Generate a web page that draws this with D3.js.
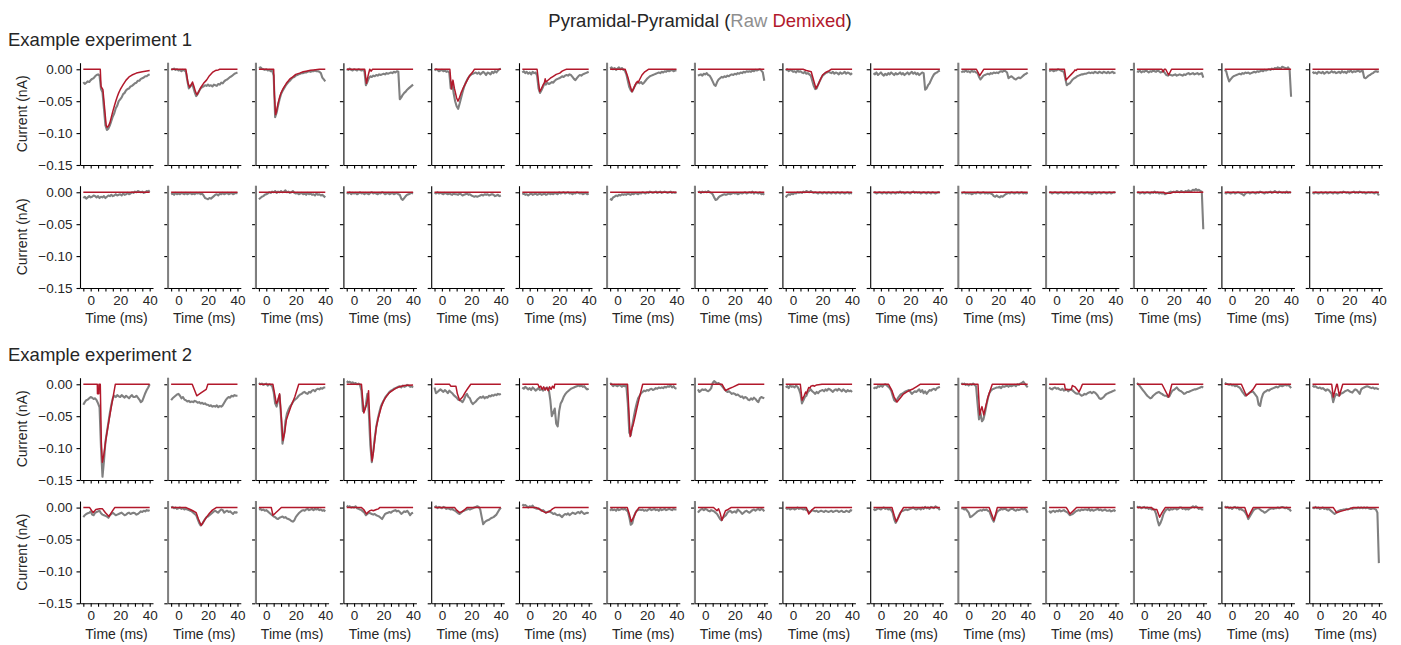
<!DOCTYPE html>
<html>
<head>
<meta charset="utf-8">
<script src="https://cdn.jsdelivr.net/npm/d3@7"></script>
<style>
    body { margin: 0; background: #fff; }
    text { font-family: "Liberation Sans", Arial, Helvetica, sans-serif; fill: #262626; }
</style>
</head>
<body>
<div id="chart"></div>
<script>
// sample times of the raw traces (ms)
const timeMs = [-5,-4,-3,-2,-1,0,1,2,3,4,5,6,7,8,9,10,11,12,13,14,15,16,17,18,19,20,21,22,23,24,25,26,27,28,29,30,31,32,33,34,35,36,37,38,39,40];
const xTicks = [-5, 0, 5, 10, 15, 20, 25, 30, 35, 40];
const xTickLabels = [0, 20, 40];
const yTicks = [0, -0.05, -0.10, -0.15];
const experimentTitles = ["Example experiment 1", "Example experiment 2"];

// columns whose raw trace carries a clipped stimulus artifact at the left edge
const artifactExp1 = [1, 2, 6, 7, 10, 11, 12];
const artifactExp2 = [1, 2, 6, 7, 10, 11, 12];

// raw traces, pA, one value per timeMs entry
const rawExp1Top = [
    [-20,-23,-21,-19,-20,-17,-15,-14,-11,-9,-8,-10,-31,-36,-62,-88,-95,-93,-88,-81,-74,-69,-61,-57,-50,-47,-44,-39,-37,-33,-31,-30,-27,-26,-24,-22,-21,-18,-18,-15,-14,-13,-11,-11,-9,-8],
    [-1,0,1,-1,0,-2,-1,-3,-1,-2,-4,-18,-30,-27,-23,-28,-36,-42,-39,-34,-30,-28,-27,-25,-26,-24,-26,-25,-27,-24,-25,-26,-23,-24,-21,-22,-19,-17,-16,-14,-12,-11,-9,-7,-6,-5],
    [2,3,1,0,-1,0,-2,-1,-3,-2,-10,-75,-68,-57,-47,-39,-34,-30,-26,-23,-20,-18,-15,-13,-12,-10,-9,-8,-7,-6,-6,-5,-5,-4,-3,-4,-3,-3,-2,-3,-3,-4,-6,-13,-16,-19],
    [0,-1,1,-1,-2,0,-1,-2,0,-1,-2,-1,-3,-25,-20,-14,-11,-12,-10,-11,-9,-10,-8,-9,-8,-7,-8,-6,-7,-6,-5,-6,-4,-5,-3,-4,-47,-44,-40,-37,-35,-32,-30,-28,-26,-24],
    [-2,0,-1,-3,-2,-1,-3,-2,-4,-3,-5,-30,-20,-38,-50,-58,-62,-54,-45,-36,-28,-22,-17,-13,-10,-8,-7,-6,-5,-7,-5,-8,-6,-4,-6,-9,-5,-6,-8,-4,-6,-3,-5,-2,0,1],
    [-5,-3,-6,-4,-7,-5,-8,-4,-6,-5,-10,-30,-37,-33,-28,-22,-24,-21,-23,-22,-20,-21,-18,-16,-15,-14,-13,-11,-12,-10,-9,-10,-8,-9,-12,-15,-17,-14,-11,-9,-10,-8,-7,-6,-5,-4],
    [1,3,0,2,-1,1,3,0,2,-1,-2,-8,-18,-28,-33,-35,-30,-25,-22,-20,-22,-20,-23,-21,-18,-15,-13,-11,-10,-9,-8,-7,-6,-5,-6,-4,-5,-3,-4,-2,-3,-2,-1,-3,-2,-2],
    [-10,-9,-8,-10,-7,-8,-6,-9,-10,-14,-19,-24,-26,-20,-16,-14,-12,-13,-11,-12,-10,-11,-9,-8,-9,-7,-8,-6,-7,-5,-6,-4,-5,-3,-4,-3,-4,-2,-3,-1,-2,-1,0,-2,-5,-18],
    [-2,0,-3,-1,-2,-4,-3,-5,-2,-4,-3,-5,-6,-4,-7,-6,-8,-10,-18,-26,-31,-30,-24,-19,-14,-10,-8,-6,-5,-4,-5,-6,-4,-7,-5,-6,-8,-5,-7,-6,-4,-7,-5,-6,-8,-6],
    [-6,-8,-5,-9,-7,-5,-8,-10,-7,-9,-6,-8,-5,-7,-9,-6,-8,-7,-5,-8,-6,-9,-7,-5,-8,-6,-4,-7,-5,-8,-6,-9,-7,-5,-6,-32,-30,-25,-22,-17,-12,-8,-6,-5,-3,-2],
    [-5,-3,-4,-2,-4,-3,-5,-2,-4,-3,-5,-6,-12,-16,-13,-10,-9,-8,-7,-8,-6,-7,-5,-6,-5,-6,-4,-3,-4,-2,-3,-5,-14,-12,-11,-13,-15,-16,-14,-13,-14,-12,-10,-8,-7,-5],
    [-3,-2,-1,-3,-2,-2,0,-1,-2,-3,-4,-15,-25,-23,-22,-19,-16,-14,-13,-11,-10,-9,-8,-8,-7,-7,-6,-5,-6,-5,-6,-4,-5,-6,-4,-5,-6,-4,-5,-6,-4,-6,-5,-4,-6,-5],
    [-3,-4,-2,-5,-3,-4,-2,-3,-5,-3,-4,-2,-3,-4,-2,-3,-5,-4,-3,-6,-9,-10,-8,-9,-10,-9,-8,-10,-9,-8,-9,-10,-8,-9,-7,-6,-8,-7,-6,-8,-7,-6,-8,-7,-6,-13],
    [-1,-3,-12,-19,-16,-13,-11,-10,-9,-8,-7,-8,-6,-7,-5,-6,-5,-7,-6,-5,-4,-5,-3,-4,-3,-2,-3,-1,-2,-1,0,-1,1,0,2,1,3,2,1,4,3,2,1,3,-1,-43],
    [-4,-6,-5,-7,-4,-5,-6,-4,-7,-5,-4,-6,-5,-3,-5,-4,-6,-5,-4,-6,-3,-5,-4,-6,-3,-4,-2,-5,-3,-4,-3,-2,-4,-3,-2,-13,-14,-12,-10,-9,-7,-6,-4,-3,-4,-3]
];
const rawExp1Bottom = [
    [-9,-7,-10,-8,-6,-8,-7,-5,-6,-8,-6,-9,-7,-8,-6,-9,-7,-5,-6,-4,-6,-5,-3,-5,-4,-3,-5,-2,-4,-3,-1,-3,-2,0,-1,1,0,2,1,0,1,-1,0,2,1,3],
    [-3,-2,-4,-1,-3,-2,-3,-1,-2,-3,-1,-3,-2,-1,-3,-2,-3,-1,-2,-1,-3,-2,-5,-9,-10,-11,-9,-10,-8,-6,-4,-3,-5,-2,-3,-1,-3,-2,-1,-3,-2,-1,-3,-2,-1,-2],
    [-11,-9,-7,-6,-4,-3,-2,0,-1,1,0,2,-1,1,0,2,0,1,3,0,1,-1,0,2,-1,-2,-1,-3,-2,-1,-3,-2,-4,-1,-3,-2,-4,-3,-5,-2,-4,-3,-5,-4,-6,-8],
    [-1,-2,0,-3,-1,-2,-1,-3,-2,0,-2,-1,-3,-1,-2,-3,-1,0,-2,-1,-2,-3,-1,-2,0,-1,-3,-2,-1,-3,-2,-1,-3,-2,-1,-3,-4,-10,-12,-9,-6,-4,-3,-2,-1,-2],
    [-1,-2,0,-2,-1,-2,-3,-1,-2,-3,-2,-3,-4,-2,-3,-3,-4,-2,-3,-5,-4,-3,-2,-4,-3,-5,-6,-7,-6,-7,-6,-5,-4,-5,-3,-4,-3,-5,-4,-3,-4,-6,-5,-4,-6,-5],
    [-3,-2,-4,-3,-5,-3,-2,-4,-3,-2,-4,-3,-2,-4,-3,-2,-4,-3,-1,-3,-2,-3,-1,-2,-3,0,-2,-1,0,-2,-1,0,-2,-1,-3,-1,-2,0,-1,-2,-1,-3,-2,-1,-3,-2],
    [-10,-12,-8,-7,-5,-6,-4,-5,-3,-4,-3,-4,-2,-3,-4,-2,-3,-1,-2,-3,-1,-2,0,-1,-2,0,-1,1,0,-1,0,1,-1,0,1,-1,0,1,0,-1,0,1,-1,0,-1,0],
    [0,1,-1,1,0,1,0,2,0,-1,-3,-8,-12,-11,-8,-6,-5,-4,-3,-4,-3,-2,-3,-2,-1,-2,-1,-3,-2,-1,-2,-1,0,-2,-1,0,-1,1,-2,0,-1,-2,0,-3,-2,-4],
    [-8,-5,-3,-4,-2,-3,-1,-2,0,-1,0,-1,1,0,2,1,0,2,0,-1,0,-1,-2,0,-1,-2,0,-1,-2,0,-1,-2,0,-1,-2,0,-1,-2,0,-1,-2,-1,0,-2,-1,-2],
    [-1,0,-2,-1,0,-1,-2,0,-1,-2,0,-1,-2,0,-1,-2,0,-1,1,-1,0,-2,-1,0,-1,-2,0,1,-1,0,-1,0,-2,-1,0,-1,-2,0,-1,-2,0,-1,-2,-1,0,-1],
    [-2,-1,0,-2,-1,-2,-1,-3,-2,-1,-2,0,-1,-2,-1,0,-2,-1,-2,-1,-2,-3,-6,-7,-5,-7,-8,-6,-7,-5,-3,-2,-1,-2,0,-1,-2,-1,0,-2,-1,0,-2,-1,-2,-1],
    [-1,0,-2,-1,0,-1,-2,-1,0,-1,-2,-1,0,-2,-1,0,-1,-2,-1,0,-2,-1,0,-1,-2,-1,0,-2,-1,-3,-1,0,-2,-1,0,-2,-1,0,-1,-2,-1,0,-2,-1,0,-1],
    [-1,0,-2,-1,0,-2,-1,0,-1,-2,0,-1,1,-1,0,-2,-1,-2,-1,-3,-2,-1,0,1,0,1,0,2,1,0,2,1,0,2,1,3,1,2,4,3,5,3,4,2,1,-58],
    [-1,-2,0,-1,-2,-1,0,-2,-1,0,-1,-2,-3,-5,-2,-1,0,-2,-1,0,-1,-2,0,-1,1,0,-1,-2,0,-1,0,1,-1,0,2,0,-1,1,0,-1,0,-1,1,-1,0,-1],
    [-1,-2,0,-1,-2,-1,0,-2,-1,0,-2,-1,0,-1,-2,0,-1,-2,-1,0,-1,1,0,-1,0,-2,-1,0,1,-1,0,-1,1,0,-1,0,-2,-1,0,-1,0,-1,-2,0,-1,-5]
];
const rawExp2Top = [
    [-32,-28,-25,-24,-22,-20,-21,-23,-22,-25,-30,-36,-100,-145,-120,-90,-75,-60,-45,-32,-22,-18,-20,-17,-19,-20,-17,-19,-21,-18,-20,-22,-19,-17,-20,-20,-18,-21,-24,-28,-26,-20,-14,-9,-5,0],
    [-25,-22,-20,-18,-16,-15,-18,-22,-20,-24,-25,-27,-26,-28,-27,-28,-26,-27,-29,-28,-30,-29,-31,-30,-32,-32,-34,-33,-35,-34,-35,-33,-36,-34,-35,-33,-29,-25,-22,-20,-21,-18,-19,-17,-18,-18],
    [2,0,1,-1,0,1,-2,0,-1,-3,-12,-30,-35,-25,-17,-50,-93,-80,-58,-46,-40,-35,-32,-28,-25,-23,-21,-18,-16,-15,-13,-12,-14,-15,-12,-13,-10,-9,-11,-8,-7,-8,-6,-7,-5,-5],
    [5,3,4,2,3,1,2,0,1,-1,-10,-42,-40,-32,-15,-45,-95,-122,-105,-84,-67,-55,-45,-36,-30,-26,-21,-18,-15,-12,-10,-9,-7,-6,-5,-4,-3,-5,-2,-4,-3,-1,-2,-4,-3,-5],
    [-5,-14,-12,-10,-8,-10,-12,-9,-11,-14,-10,-12,-14,-17,-19,-21,-24,-25,-26,-28,-24,-18,-15,-20,-22,-28,-31,-29,-27,-24,-22,-20,-21,-19,-22,-20,-21,-18,-19,-17,-18,-16,-17,-15,-16,-15],
    [-5,-7,-4,-6,-8,-6,-9,-5,-7,-10,-8,-6,-9,-7,-10,-8,-6,-5,-9,-25,-50,-44,-38,-62,-66,-42,-30,-26,-20,-16,-13,-11,-9,-7,-6,-5,-4,-3,-2,-3,-2,-4,-3,-6,-8,-7],
    [2,0,-3,-1,-2,-3,-1,-2,-4,-2,-3,-2,-30,-76,-80,-65,-52,-40,-30,-22,-18,-14,-12,-10,-11,-9,-10,-8,-7,-9,-8,-6,-7,-5,-6,-5,-6,-4,-5,-3,-4,-2,-5,-3,-6,-7],
    [-8,-12,-10,-8,-9,-8,-10,-11,-9,-6,2,5,3,1,2,0,-2,-5,-8,-10,-12,-11,-13,-15,-14,-15,-17,-16,-18,-20,-19,-22,-20,-21,-24,-25,-22,-24,-21,-23,-26,-28,-22,-20,-21,-22],
    [-5,-3,-6,-2,-4,-3,-5,-2,-4,-8,-15,-30,-25,-20,-18,-12,-10,-8,-11,-13,-15,-12,-14,-11,-10,-9,-11,-8,-10,-7,-8,-10,-12,-9,-8,-10,-7,-9,-11,-8,-10,-12,-9,-11,-10,-12],
    [-7,-5,-6,-3,-4,-2,-4,-1,0,-2,-4,-6,-10,-18,-25,-27,-24,-20,-17,-15,-14,-12,-11,-10,-9,-12,-15,-13,-11,-12,-10,-8,-12,-9,-14,-11,-15,-12,-9,-10,-8,-7,-9,-6,-5,-4],
    [2,0,1,-1,0,-2,0,-1,1,-1,-3,-30,-55,-45,-58,-55,-45,-33,-22,-14,-10,-8,-7,-6,-5,-5,-4,-6,-3,-4,-3,-2,-4,-2,-3,-2,-1,-3,0,-1,1,2,4,1,-2,-5],
    [-5,-7,-8,-6,-5,-7,-6,-8,-9,-7,-10,-9,-8,-11,-9,-8,-10,-12,-14,-15,-14,-16,-18,-17,-15,-16,-14,-13,-12,-14,-12,-13,-15,-18,-22,-23,-22,-20,-17,-15,-14,-13,-12,-11,-10,-9],
    [2,0,-3,-6,-9,-12,-15,-18,-20,-22,-21,-18,-16,-14,-13,-12,-14,-15,-17,-18,-18,-20,-19,-14,-10,-9,-7,-5,-8,-10,-11,-13,-15,-14,-12,-12,-11,-10,-9,-8,-8,-7,-6,-5,-4,-5],
    [2,1,0,-1,0,-2,-1,-3,-2,-4,-5,-8,-12,-15,-18,-16,-15,-13,-12,-11,-14,-17,-20,-32,-34,-22,-15,-12,-11,-9,-10,-8,-7,-6,-5,-4,-5,-3,-2,-3,-2,-1,-2,-1,-3,-6],
    [-2,-4,-3,-5,-6,-5,-7,-6,-8,-10,-8,-9,-12,-15,-28,-20,-15,-17,-18,-15,-14,-13,-11,-10,-9,-11,-12,-13,-10,-8,-9,-12,-15,-8,-6,-5,-4,-3,-4,-5,-6,-5,-7,-6,-7,-8]
];
const rawExp2Bottom = [
    [-15,-12,-10,-9,-8,-6,-11,-12,-8,-7,-6,-5,-9,-11,-12,-13,-14,-16,-12,-10,-8,-10,-12,-11,-10,-9,-8,-10,-12,-11,-9,-8,-10,-9,-8,-9,-11,-10,-8,-6,-7,-5,-6,-4,-5,-4],
    [0,1,-1,0,-2,-1,0,-2,-1,-3,-2,-3,-4,-5,-6,-8,-10,-12,-18,-24,-28,-26,-22,-18,-15,-14,-12,-10,-8,-6,-5,-7,-8,-5,-3,-4,-8,-6,-5,-7,-6,-8,-10,-7,-8,-7],
    [-3,-2,-4,-3,-5,-4,-6,-8,-10,-12,-14,-15,-17,-18,-16,-15,-14,-16,-15,-17,-18,-19,-21,-22,-20,-15,-12,-9,-7,-5,-4,-5,-3,-2,-4,-3,-2,-4,-2,-3,-2,-4,-3,-5,-4,-6],
    [3,1,2,0,1,0,2,-1,-2,-3,-4,-6,-8,-12,-10,-8,-9,-10,-11,-10,-12,-13,-14,-16,-18,-14,-10,-9,-8,-7,-8,-6,-5,-4,-6,-5,-7,-10,-8,-6,-7,-5,-8,-12,-9,-8],
    [0,2,-1,1,0,-1,1,0,-2,-1,-2,-3,-2,-4,-5,-7,-9,-10,-8,-6,-5,-4,-3,-2,-3,-2,-1,0,1,2,1,-3,-15,-26,-23,-21,-20,-19,-17,-16,-15,-13,-11,-7,-3,0],
    [5,3,4,2,0,2,1,3,0,-1,-2,-1,-3,-5,-4,-6,-8,-7,-6,-7,-8,-10,-9,-11,-12,-11,-13,-15,-12,-10,-11,-9,-12,-10,-8,-9,-10,-8,-7,-9,-6,-8,-10,-9,-8,-9],
    [-5,-2,-4,-3,-5,-2,-4,-3,-2,-3,-2,-4,-6,-15,-27,-25,-15,-9,-5,-4,-3,-4,-3,-5,-4,-5,-3,-2,-4,-3,-2,-4,-3,-5,-2,-4,-3,-2,-4,-3,-2,-3,-4,-2,-3,-3],
    [-8,-5,-3,-2,-4,-2,-3,-5,-6,-4,-5,-6,-8,-10,-14,-18,-20,-16,-14,-12,-8,-6,-5,-8,-7,-6,-8,-3,-5,-7,-10,-8,-6,-5,-7,-8,-6,-4,-3,-5,-3,-2,-4,-2,-3,-6],
    [0,-2,-1,-3,-2,-1,-3,-2,0,-2,-1,-2,-3,-2,-4,-5,-8,-6,-4,-5,-6,-5,-7,-6,-5,-6,-7,-5,-6,-7,-6,-5,-7,-6,-5,-5,-7,-6,-5,-7,-7,-5,-6,-7,-4,-5],
    [-2,-4,-3,-1,-2,-3,-1,0,-2,-1,-3,-2,-4,-8,-18,-24,-20,-14,-9,-6,-5,-4,-3,-4,-3,-2,-1,0,-2,-3,-2,-1,-3,0,-2,1,-1,0,-2,1,0,-1,2,0,-1,-4],
    [-2,-1,-3,-2,-5,-8,-15,-14,-12,-10,-8,-6,-5,-4,-5,-3,-4,-3,-5,-6,-12,-18,-22,-14,-8,-5,-4,-2,-3,-2,-2,-4,-5,-3,-2,-2,-4,-5,-3,-4,-3,-2,-3,-2,-4,-8],
    [-5,-8,-6,-5,-7,-5,-6,-4,-6,-5,-4,-6,-7,-9,-12,-11,-10,-8,-6,-5,-4,-5,-3,-4,-3,-3,-4,-2,-5,-3,-5,-4,-3,-2,-4,-3,-5,-4,-3,-5,-5,-4,-6,-5,-4,-6],
    [2,0,1,-1,0,1,-1,0,-2,-1,-3,-2,-4,-10,-20,-28,-24,-18,-10,-6,-3,-2,-4,-2,-3,-2,-1,-3,-2,0,0,-2,-1,-3,-2,-3,-1,0,2,0,2,0,-2,-1,-3,-3],
    [2,0,1,-1,0,-2,0,1,-1,0,-3,-2,-4,-5,-8,-12,-18,-14,-10,-6,-3,-2,-1,-1,-3,-5,-6,-8,-7,-5,-3,-2,-1,-2,-1,-1,0,-1,0,1,0,-1,0,-2,-3,-6],
    [0,-1,1,-1,0,-2,-1,0,-2,-1,-3,-2,-4,-6,-8,-10,-8,-6,-5,-4,-4,-3,-3,-2,-3,-2,-1,-2,-1,-1,-1,0,-1,0,-1,0,-1,0,-1,-2,-2,-1,-2,-3,-8,-87]
];

// demixed traces, vertices as [time ms, pA]
const demixedExp1Top = [
    [[-5,0],[6.5,0],[7,-27],[8.3,-32],[9.2,-55],[10.5,-88],[11.2,-91],[12,-89],[13,-84],[14,-75],[15,-66],[16,-58],[17,-50],[18,-43],[19,-37],[20,-32],[22,-24],[24,-17],[26,-12],[28,-9],[31,-6],[35,-4],[40,-2]],
    [[-5,0],[5,0],[6.5,-22],[7.5,-28],[8.5,-25],[9.5,-20],[10.5,-27],[11.5,-35],[12.5,-40],[13.5,-36],[15,-29],[17,-22],[19,-17],[21,-10],[23,-5],[25,-2],[27,-1],[28,0],[40,0]],
    [[-5,0],[5,0],[5.5,-40],[6.3,-71],[7,-65],[8,-53],[9,-44],[10,-37],[11,-32],[12,-28],[13.6,-22],[15,-18],[16,-15],[18,-12],[20,-8],[22.6,-6],[25,-4],[27,-3],[30,-1.5],[32,-1],[36,0],[40,0]],
    [[-5,0],[7.2,0],[8.4,-22],[9.5,-10],[10.6,0],[11.5,-3],[12.5,0],[40,0]],
    [[-5,0],[5.4,0],[6.5,-31],[7.5,-17],[8.5,-30],[10,-45],[10.9,-50],[12,-44],[13,-37],[14.5,-29],[16.5,-20],[18.5,-11],[21,-4],[22,0],[40,0]],
    [[-5,0],[5,0],[6,-20],[6.8,-35],[8,-30],[9,-25],[10,-21],[10.5,-15],[11,-20],[12,-18],[14,-14],[16,-11],[18,-8],[20.4,-6],[22,-3],[23.8,-1],[25,0],[40,0]],
    [[-5,0],[5.2,0],[7,-12],[8.5,-25],[9.8,-35],[11,-30],[12.5,-22],[13.5,-19],[14,-21],[15,-16],[16.6,-9],[18.5,-4],[21,0],[40,0]],
    [[-5,0],[40,0]],
    [[-5,0],[6.7,0],[9,-2],[12.3,-4],[14,-18],[15.5,-30],[17,-24],[18.5,-16],[20,-9],[22,-5],[24.5,-2],[26,0],[40,0]],
    [[-5,0],[40,0]],
    [[-5,0],[5.2,0],[7.5,-10],[10.2,0],[40,0]],
    [[-5,0],[5.4,0],[6.5,-17],[8,-13],[10,-8],[12,-3],[12.5,-1],[13.3,-2],[14,0],[40,0]],
    [[-5,0],[12,0],[12.8,-4],[13.5,0],[14.5,0],[16.5,-9],[18.5,0],[40,0]],
    [[-5,0],[40,0]],
    [[-5,0],[40,0]]
];
const demixedExp1Bottom = [
    [[-5,0],[40,0]], [[-5,0],[40,0]], [[-5,0],[40,0]], [[-5,0],[40,0]], [[-5,0],[40,0]],
    [[-5,0],[40,0]], [[-5,0],[40,0]], [[-5,0],[40,0]], [[-5,0],[40,0]], [[-5,0],[40,0]],
    [[-5,0],[40,0]], [[-5,0],[40,0]],
    [[-5,0],[13,0],[14.5,-1.5],[18,-1.5],[19,0],[40,0]],
    [[-5,0],[40,0]], [[-5,0],[40,0]]
];
const demixedExp2Top = [
    [[-5,0],[4.5,0],[4.6,-15],[5.5,-15],[5.6,0],[6.5,0],[7.2,-90],[7.9,-122],[8.8,-112],[10.6,-82],[12.3,-58],[14,-35],[15.5,-16],[16.7,0],[40,0]],
    [[-5,0],[9.3,0],[12.4,-18],[15,-14],[18.8,-8],[19.9,0],[40,0]],
    [[-5,0],[4.5,0],[6.8,-30],[7.5,-28],[9,-15],[10,-45],[11.3,-88],[12.5,-75],[13.6,-56],[15,-46],[17,-33],[19.3,-20],[22,0],[40,0]],
    [[-5,0],[5,0],[6.6,-45],[8.4,-32],[9.3,-22],[9.8,-10],[10.5,-50],[11.5,-100],[12.2,-120],[13,-108],[14,-88],[15.1,-67],[16.5,-52],[18.5,-35],[20,-26],[21.9,-19],[24,-13],[26.4,-9],[28.5,-6],[30.9,-4],[34,-2],[40,-1]],
    [[-5,0],[5.2,0],[6,-3],[9.5,-3],[10.5,-15],[12,-25],[14,-20],[16,-12],[18,-5],[19.6,0],[40,0]],
    [[-5,0],[5.6,0],[6.5,-5],[7.5,-3],[8.5,-8],[9.5,-4],[10.5,-9],[11.5,-5],[12.5,-10],[13.5,-4],[14.5,-8],[15.5,-3],[16.5,-6],[17,0],[40,0]],
    [[-5,0],[6.8,0],[8.6,-82],[9.5,-72],[10.9,-61],[12,-50],[13.1,-38],[14.5,-24],[15.8,-12],[17.1,0],[40,0]],
    [[-5,0],[11.4,0],[13.7,-10],[16,-7],[19,-4],[22.7,0],[40,0]],
    [[-5,0],[4.9,0],[6.1,-25],[7.5,-18],[8.5,-12],[9,-15],[10.6,-5],[11.5,-6],[12,-3],[13.5,-2],[14.5,-3],[16,-1],[19.6,0],[40,0]],
    [[-5,0],[5.2,0],[7.5,-10],[9,-20],[10.9,-28],[13,-22],[15,-16],[17.6,-12],[20,-9],[22,-7],[24,-4],[26.6,0],[40,0]],
    [[-5,0],[6.3,0],[7.5,-48],[8.3,-40],[9,-35],[9.5,-40],[10.2,-48],[11.5,-35],[13.1,-20],[14.5,-10],[16,0],[40,0]],
    [[-5,0],[5.4,0],[6,-8],[10,-8],[10.8,-2],[12.5,-4],[15.3,-12],[16.5,-6],[17.6,0],[40,0]],
    [[-5,0],[12,0],[16.5,-20],[18.7,0],[40,0]],
    [[-5,0],[6.3,0],[9.7,-18],[12,-13],[14.2,-8],[16.4,0],[40,0]],
    [[-5,0],[8,0],[9.1,-20],[11.4,0],[11.8,0],[13.2,-18],[15.5,0],[40,0]]
];
const demixedExp2Bottom = [
    [[-5,0],[-0.7,0],[1.6,-8],[3.5,-3],[6,-2],[8,-2],[10,-8],[12.4,-14],[14,-8],[16.3,0],[40,0]],
    [[-5,0],[5.2,0],[8,-3],[9.7,-5],[12,-8],[13.5,-18],[15.4,-28],[17,-22],[19,-15],[21,-9],[23,-4],[25.6,0],[40,0]],
    [[-5,0],[3.4,0],[4.5,-12],[6,-9],[7.9,-5],[10.2,0],[40,0]],
    [[-5,0],[5,0],[6.5,-3],[8.4,-10],[9.5,-7],[10.6,-5],[12,-4],[13,-5],[15.1,-3],[16.5,-2],[17.4,0],[40,0]],
    [[-5,0],[8.6,0],[10,-4],[12,-8],[14,-6],[15.5,-3],[17,0],[40,0]],
    [[-5,0],[4.5,0],[7,-3],[9,-6],[10.8,-8],[12.5,-7],[14,-5],[15.5,-2],[17,0],[40,0]],
    [[-5,0],[6.6,0],[8,-10],[9.3,-22],[11,-15],[12.5,-7],[14.5,0],[40,0]],
    [[-5,0],[5.6,0],[7.9,-5],[9,-2],[10,-8],[11.3,-20],[12.5,-12],[13.7,-5],[15.5,-3],[17.4,0],[40,0]],
    [[-5,0],[9,0],[9.5,-3],[10.6,-10],[12,-6],[13,-3],[14.6,0],[40,0]],
    [[-5,0],[7.5,0],[9,-12],[10.4,-22],[12,-15],[13.5,-7],[15.3,0],[40,0]],
    [[-5,0],[13.9,0],[15.5,-10],[17.1,-20],[18.3,-10],[19.4,0],[40,0]],
    [[-5,0],[6.6,0],[7.5,-3],[9.1,-10],[11,-6],[13.6,0],[40,0]],
    [[-5,0],[5.1,0],[6,-3],[8.5,-3],[10.4,-15],[12,-8],[14.2,0],[40,0]],
    [[-5,0],[8.6,0],[10.9,-15],[12.5,-8],[14.3,0],[40,0]],
    [[-5,0],[9.1,0],[11.3,-8],[14,-6],[17,-4],[20,-2],[22.6,0],[40,0]]
];

const width = 1401;
const height = 645;
const panelW = 73;
const panelH = 102.3;
const colLeft = 80;
const colStep = 87.8;
const rawColor = "#808080";
const demixedColor = "#b2182b";

const rows = [
    {raw: rawExp1Top, demixed: demixedExp1Top, artifact: artifactExp1, top: 62.7, labels: false},
    {raw: rawExp1Bottom, demixed: demixedExp1Bottom, artifact: artifactExp1, top: 185.7, labels: true},
    {raw: rawExp2Top, demixed: demixedExp2Top, artifact: artifactExp2, top: 377.7, labels: false},
    {raw: rawExp2Bottom, demixed: demixedExp2Bottom, artifact: artifactExp2, top: 501, labels: true}
];

const svg = d3.select("#chart").append("svg")
    .attr("width", width)
    .attr("height", height);

const x = d3.scaleLinear().domain([-7.25, 42.25]).range([0, panelW]);
const y = d3.scaleLinear().domain([-0.15, 0.0103]).range([panelH, 0]);

// traces are stored in pA, the axis is in nA
const trace = d3.line()
    .x(d => x(d[0]))
    .y(d => y(d[1] / 1000));

svg.append("clipPath").attr("id", "panel-clip")
    .append("rect")
    .attr("width", panelW)
    .attr("height", panelH);

// TITLE
const title = svg.append("text")
    .attr("x", 700)
    .attr("y", 27)
    .attr("text-anchor", "middle")
    .attr("font-size", "18.5px");
title.append("tspan").text("Pyramidal-Pyramidal (");
title.append("tspan").style("fill", "#8f8f8f").text("Raw");
title.append("tspan").text(" ");
title.append("tspan").style("fill", demixedColor).text("Demixed");
title.append("tspan").text(")");

svg.selectAll(".experiment-title")
    .data(experimentTitles)
    .enter()
    .append("text")
    .attr("class", "experiment-title")
    .attr("x", 8)
    .attr("y", (d, i) => i === 0 ? 46 : 361)
    .attr("font-size", "18.5px")
    .text(d => d);

function styleAxis(g) {
    g.select(".domain").attr("stroke", "#000").attr("stroke-width", 1.1);
    g.selectAll(".tick line").attr("stroke", "#000").attr("stroke-width", 1.1);
    g.selectAll(".tick text")
        .attr("font-family", "'Liberation Sans', Arial, sans-serif")
        .attr("font-size", "13.5px")
        .style("fill", "#262626");
}

function drawPanel(row, col) {
    const g = svg.append("g")
        .attr("transform", "translate(" + (colLeft + col * colStep) + "," + row.top + ")");

    const yAxis = d3.axisLeft(y)
        .tickValues(yTicks)
        .tickSize(3.5)
        .tickSizeOuter(0)
        .tickPadding(4)
        .tickFormat(col === 0 ? d3.format(".2f") : "");
    g.append("g").call(yAxis).call(styleAxis);

    const xAxis = d3.axisBottom(x)
        .tickValues(xTicks)
        .tickSize(3.5)
        .tickSizeOuter(0)
        .tickPadding(3.5)
        .tickFormat(d => row.labels && xTickLabels.includes(d) ? d : "");
    g.append("g")
        .attr("transform", "translate(0," + panelH + ")")
        .call(xAxis)
        .call(styleAxis);

    const plot = g.append("g").attr("clip-path", "url(#panel-clip)");

    plot.append("path")
        .datum(timeMs.map((t, i) => [t, row.raw[col][i]]))
        .attr("d", trace)
        .attr("fill", "none")
        .attr("stroke", rawColor)
        .attr("stroke-width", 2.1)
        .attr("stroke-linejoin", "round");

    plot.append("path")
        .datum(row.demixed[col])
        .attr("d", trace)
        .attr("fill", "none")
        .attr("stroke", demixedColor)
        .attr("stroke-width", 1.5)
        .attr("stroke-linejoin", "round");

    // clipped artifact of the raw sweep, lying on the left spine
    if (row.artifact.includes(col)) {
        g.append("line")
            .attr("x1", 0.3)
            .attr("x2", 0.3)
            .attr("y1", 0)
            .attr("y2", panelH)
            .attr("stroke", rawColor)
            .attr("stroke-width", 2);
    }

    if (row.labels) {
        g.append("text")
            .attr("x", panelW / 2)
            .attr("y", panelH + 35.5)
            .attr("text-anchor", "middle")
            .attr("font-size", "14px")
            .text("Time (ms)");
    }
    if (col === 0) {
        g.append("text")
            .attr("transform", "translate(" + (-53) + "," + panelH / 2 + ") rotate(-90)")
            .attr("text-anchor", "middle")
            .attr("font-size", "14px")
            .text("Current (nA)");
    }
}

rows.forEach(row => {
    row.raw.forEach((d, col) => drawPanel(row, col));
});
</script>
</body>
</html>
